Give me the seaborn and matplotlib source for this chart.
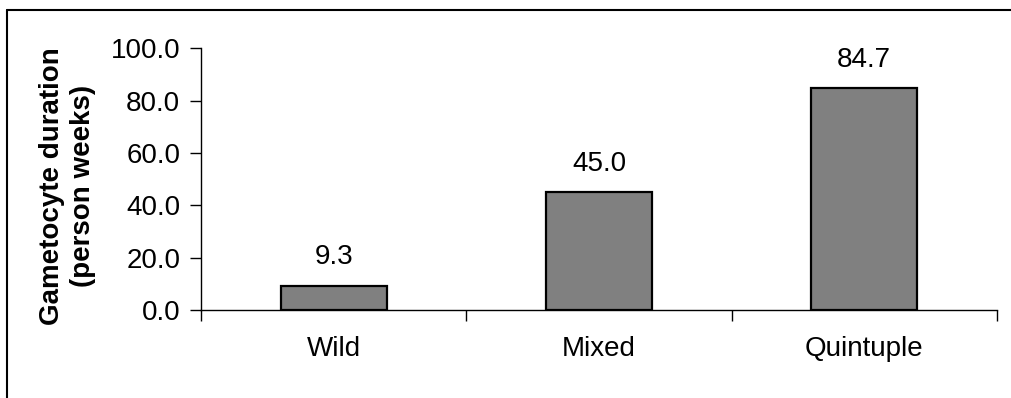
import matplotlib
matplotlib.use("Agg")
import matplotlib.pyplot as plt
from matplotlib.lines import Line2D
from matplotlib.ticker import FixedLocator, FormatStrFormatter
import seaborn as sns
import pandas as pd

# Data
categories = ["Wild", "Mixed", "Quintuple"]
durations = [9.3, 45.0, 84.7]
y_ticks = [0, 20, 40, 60, 80, 100]

sns.set_theme(style="white")
plt.rcParams["font.family"] = ["Liberation Sans", "DejaVu Sans"]

FS = 20

fig = plt.figure(figsize=(10.11, 3.98), dpi=100)
ax = fig.add_axes([0.199, 0.221, 0.787, 0.658])

df = pd.DataFrame({"category": categories, "duration": durations})
sns.barplot(data=df, x="category", y="duration", color="#808080",
            saturation=1, width=0.4, edgecolor="black", linewidth=1.6, ax=ax)

ax.set_xlim(-0.5, len(categories) - 0.5)
ax.set_ylim(0, 100)
ax.set_yticks(y_ticks)
ax.yaxis.set_major_formatter(FormatStrFormatter("%.1f"))

# Category boundaries get the tick marks, centres get the labels
ax.xaxis.set_minor_locator(FixedLocator([i - 0.5 for i in range(len(categories) + 1)]))
ax.tick_params(axis="x", which="major", length=0, pad=19, labelsize=FS, colors="black")
ax.tick_params(axis="x", which="minor", bottom=True, length=8, width=1, direction="out", color="black")
ax.tick_params(axis="y", which="major", left=True, length=8, width=1, direction="out",
               pad=7, labelsize=FS, colors="black")

for side in ["top", "right"]:
    ax.spines[side].set_visible(False)
for side in ["left", "bottom"]:
    ax.spines[side].set_color("black")
    ax.spines[side].set_linewidth(1.0)

ax.set_xlabel("")
ax.set_ylabel("Gametocyte duration\n(person weeks)", fontsize=FS, fontweight="bold",
              color="black", linespacing=1.25)
ax.yaxis.set_label_coords(-0.132, 0.475)

for container in ax.containers:
    ax.bar_label(container, fmt="%.1f", padding=11, fontsize=FS, color="black")

# Outer frame of the chart area
fig.add_artist(Line2D([0.0069, 0.0069], [0.0, 0.975], transform=fig.transFigure,
                      color="black", linewidth=1.5))
fig.add_artist(Line2D([0.0069, 1.0], [0.975, 0.975], transform=fig.transFigure,
                      color="black", linewidth=1.5))

fig.savefig("out.png", dpi=100)
